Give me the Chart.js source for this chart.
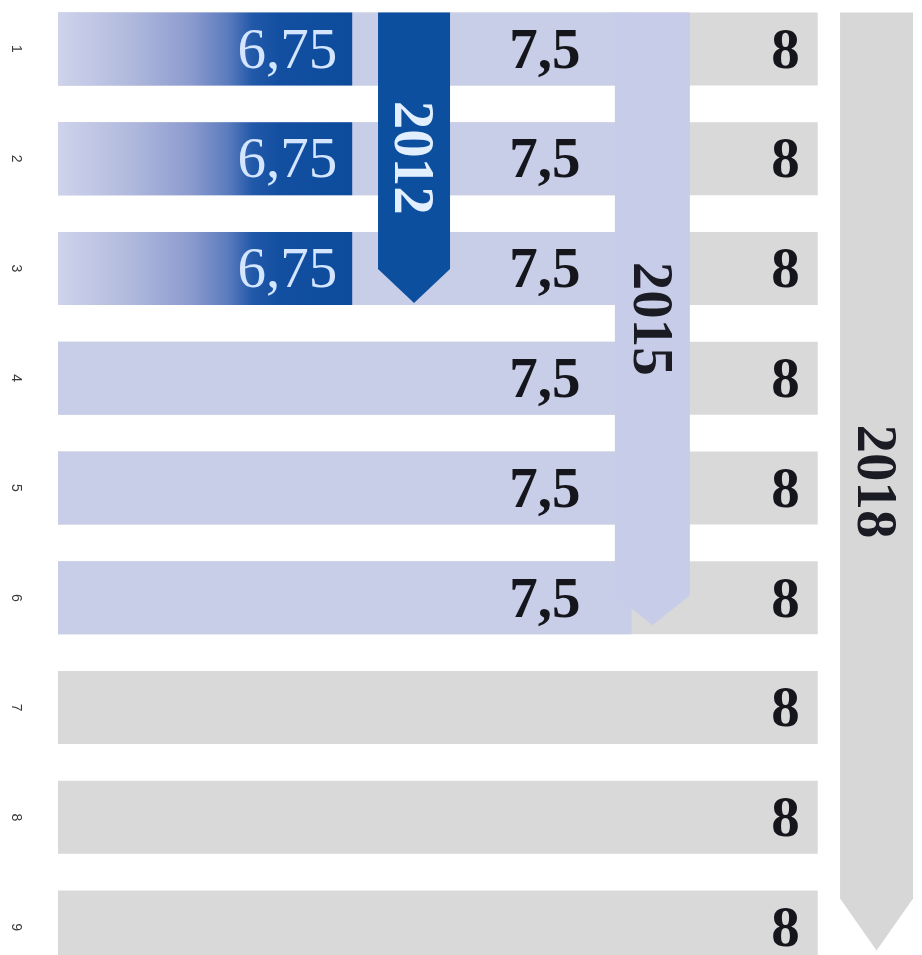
<!DOCTYPE html>
<html>
<head>
<meta charset="utf-8">
<script src="https://cdn.jsdelivr.net/npm/chart.js@4"></script>
<style>
  html, body { margin: 0; padding: 0; background: #fff; overflow: hidden; }
  body { width: 922px; height: 955px; position: relative; }
  #wrap { position: absolute; left: 0; top: -6px; width: 922px; height: 988px; }
</style>
</head>
<body>
<div id="wrap"><canvas id="rateChart"></canvas></div>
<script>
// Data
const rowLabels = ["1", "2", "3", "4", "5", "6", "7", "8", "9"];
const rate2012 = [6.75, 6.75, 6.75, null, null, null, null, null, null];
const rate2015 = [7.5, 7.5, 7.5, 7.5, 7.5, 7.5, null, null, null];
const rate2018 = [8, 8, 8, 8, 8, 8, 8, 8, 8];

// Year arrows (position on the value axis, last row they reach)
const arrowYears = ["2012", "2015", "2018"];
const arrowValues = [6.916, 7.556, 8.158];
const arrowLastRow = [2, 5, 8];

// Styles
const arrowColors = ["#0c4f9f", "#c7cce9", "#d7d7d7"];
const arrowTextColors = ["#e2efff", "#1b1b24", "#1b1b24"];
const arrowWidths = [72, 75, 73];
const arrowTips = [34, 30, 52];
const arrowInsets = [2, 9, 13];
const labelColors = ["#d4e6ff", "#15151c", "#15151c"];
const labelWeights = ["normal", "bold", "bold"];
const labelPads = [15, 51, 18];
const FS = 57;

function fmt(v) {
  return String(v).replace(".", ",");
}

// Dark gradient for 2012 bars
function darkGradient(context) {
  const chart = context.chart;
  const area = chart.chartArea;
  if (!area || context.raw == null) return "#1452a4";
  const x1 = chart.scales.x.getPixelForValue(context.raw);
  const g = chart.ctx.createLinearGradient(area.left, 0, x1, 0);
  g.addColorStop(0, "#cfd3eb");
  g.addColorStop(0.25, "#b0b9dd");
  g.addColorStop(0.45, "#8c9bcf");
  g.addColorStop(0.58, "#5a7bbd");
  g.addColorStop(0.66, "#2259a9");
  g.addColorStop(0.75, "#134fa1");
  g.addColorStop(1, "#0c4b9b");
  return g;
}

const overlayPlugin = {
  id: "overlay",
  afterDatasetsDraw(chart) {
    const c = chart.ctx;
    const x = chart.scales.x;
    const bars = chart.getDatasetMeta(2).data;

    // Arrows
    arrowYears.forEach((year, i) => {
      const cx = x.getPixelForValue(arrowValues[i]);
      const hw = arrowWidths[i] / 2;
      const top = bars[0].y - bars[0].height / 2;
      const last = bars[arrowLastRow[i]];
      const bottom = last.y + last.height / 2 - arrowInsets[i];
      const shoulder = bottom - arrowTips[i];

      c.save();
      c.fillStyle = arrowColors[i];
      c.beginPath();
      c.moveTo(cx - hw, top);
      c.lineTo(cx + hw, top);
      c.lineTo(cx + hw, shoulder);
      c.lineTo(cx, bottom);
      c.lineTo(cx - hw, shoulder);
      c.closePath();
      c.fill();

      c.translate(cx, (top + bottom) / 2);
      c.rotate(Math.PI / 2);
      c.font = "bold " + FS + "px 'Liberation Serif', serif";
      c.fillStyle = arrowTextColors[i];
      c.textAlign = "center";
      c.textBaseline = "alphabetic";
      c.fillText(year, 0, FS * 0.33);
      c.restore();
    });

    // Value labels
    chart.data.datasets.forEach((ds, i) => {
      const meta = chart.getDatasetMeta(i);
      meta.data.forEach((bar, j) => {
        const v = ds.data[j];
        if (v == null) return;
        c.save();
        c.font = labelWeights[i] + " " + FS + "px 'Liberation Serif', serif";
        c.fillStyle = labelColors[i];
        c.textAlign = "right";
        c.textBaseline = "alphabetic";
        c.fillText(fmt(v), bar.x - labelPads[i], bar.y + FS * 0.33);
        c.restore();
      });
    });
  },
};

const ctx = document.getElementById("rateChart").getContext("2d");

new Chart(ctx, {
  type: "bar",
  data: {
    labels: rowLabels,
    datasets: [
      {
        label: "2012",
        data: rate2012,
        backgroundColor: darkGradient,
      },
      {
        label: "2015",
        data: rate2015,
        backgroundColor: "#c8cde8",
      },
      {
        label: "2018",
        data: rate2018,
        backgroundColor: "#d9d9d9",
      },
    ],
  },
  options: {
    indexAxis: "y",
    responsive: true,
    maintainAspectRatio: false,
    animation: false,
    layout: { padding: 0 },
    datasets: {
      bar: {
        grouped: false,
        categoryPercentage: 1,
        barPercentage: 0.665,
        borderWidth: 0,
      },
    },
    scales: {
      x: {
        display: false,
        min: 5.96,
        max: 8.28,
      },
      y: {
        grid: { display: false, drawTicks: false },
        border: { display: false },
        afterFit: (scale) => {
          scale.width = 58;
          scale.paddingTop = 0;
          scale.paddingBottom = 0;
        },
        ticks: {
          minRotation: -90,
          maxRotation: -90,
          crossAlign: "center",
          padding: 38,
          color: "#3a3a3a",
          font: { family: "'Liberation Sans', sans-serif", size: 14 },
        },
      },
    },
    plugins: {
      legend: { display: false },
      tooltip: { enabled: false },
    },
  },
  plugins: [overlayPlugin],
});
</script>
</body>
</html>
